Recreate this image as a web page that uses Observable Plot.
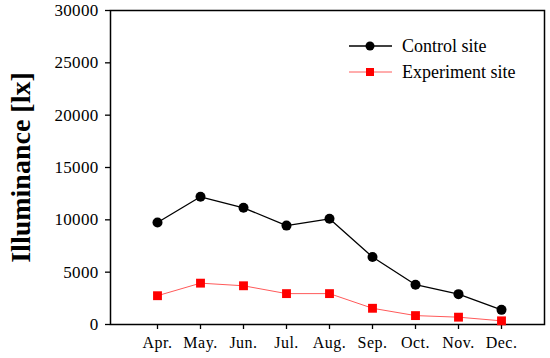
<!DOCTYPE html>
<html>
<head>
<meta charset="utf-8">
<script src="https://cdn.jsdelivr.net/npm/d3@7"></script>
<script src="https://cdn.jsdelivr.net/npm/@observablehq/plot@0.6"></script>
<style>
  html, body { margin: 0; padding: 0; background: #fff; }
  #wrap { position: relative; width: 550px; height: 358px; font-family: "Liberation Serif", "DejaVu Serif", serif; }
  #wrap svg, #wrap svg text { font-family: "Liberation Serif", "DejaVu Serif", serif !important; }
  g[aria-label="y-axis label"] text { font-size: 28px; font-weight: bold; }
  g[aria-label="y-axis tick label"] text { font-size: 17px; letter-spacing: 0.3px; }
  g[aria-label="x-axis tick label"] text { font-size: 16px; letter-spacing: 0.5px; }
  #legend { position: absolute; left: 349px; top: 33px; font-size: 18px; color: #000; font-family: "Liberation Serif", "DejaVu Serif", serif; }
  #legend .row { display: flex; align-items: center; height: 26px; }
  #legend svg { margin-right: 10px; }
</style>
</head>
<body>
<div id="wrap"></div>
<script>
const months = ["Apr.", "May.", "Jun.", "Jul.", "Aug.", "Sep.", "Oct.", "Nov.", "Dec."];
const controlSite = [9750, 12200, 11150, 9450, 10100, 6450, 3800, 2900, 1400];
const experimentSite = [2750, 3950, 3700, 2950, 2950, 1550, 850, 700, 350];
const yTicks = [0, 5000, 10000, 15000, 20000, 25000, 30000];
const seriesNames = ["Control site", "Experiment site"];

const rows = [];
months.forEach((m, i) => {
  rows.push({month: m, value: controlSite[i], series: seriesNames[0]});
  rows.push({month: m, value: experimentSite[i], series: seriesNames[1]});
});
const ctrl = rows.filter(d => d.series === seriesNames[0]);
const expt = rows.filter(d => d.series === seriesNames[1]);

const chart = Plot.plot({
  width: 550,
  height: 358,
  marginLeft: 110,
  marginRight: 6,
  marginTop: 10,
  marginBottom: 34,
  style: {background: "#fff", color: "#000", overflow: "visible", fontFamily: "'Liberation Serif', 'DejaVu Serif', serif"},
  x: {type: "point", domain: months, padding: 0.97, align: 0.52},
  y: {domain: [0, 30000]},
  marks: [
    Plot.frame({stroke: "#000", strokeWidth: 1.5}),
    Plot.axisY({ticks: yTicks, tickSize: 5, tickPadding: 7, tickFormat: d => String(d),
      label: "Illuminance [lx]", labelAnchor: "center", labelArrow: "none", labelOffset: 100, strokeWidth: 1.3}),
    Plot.axisX({tickSize: 5, tickPadding: 7, label: null, strokeWidth: 1.3}),
    Plot.line(expt, {x: "month", y: "value", stroke: "#ff5a5a", strokeWidth: 1}),
    Plot.line(ctrl, {x: "month", y: "value", stroke: "#000", strokeWidth: 1.3}),
    Plot.dot(expt, {x: "month", y: "value", symbol: "square", r: 5, fill: "#ff0000", stroke: "none"}),
    Plot.dot(ctrl, {x: "month", y: "value", symbol: "circle", r: 5, fill: "#000", stroke: "none"})
  ]
});

const wrap = document.getElementById("wrap");
wrap.appendChild(chart);

const legend = document.createElement("div");
legend.id = "legend";
const legendStyles = [
  {stroke: "#000", sw: 1.3, fill: "#000", shape: "circle"},
  {stroke: "#ff5a5a", sw: 1, fill: "#ff0000", shape: "square"}
];
seriesNames.forEach((name, i) => {
  const st = legendStyles[i];
  const marker = st.shape === "circle"
    ? `<circle cx="21" cy="7" r="4.5" fill="${st.fill}"/>`
    : `<rect x="17" y="3" width="8" height="8" fill="${st.fill}"/>`;
  const row = document.createElement("div");
  row.className = "row";
  row.innerHTML = `<svg width="43" height="14"><line x1="0" x2="43" y1="7" y2="7" stroke="${st.stroke}" stroke-width="${st.sw}"/>${marker}</svg><span>${name}</span>`;
  legend.appendChild(row);
});
wrap.appendChild(legend);
</script>
</body>
</html>
